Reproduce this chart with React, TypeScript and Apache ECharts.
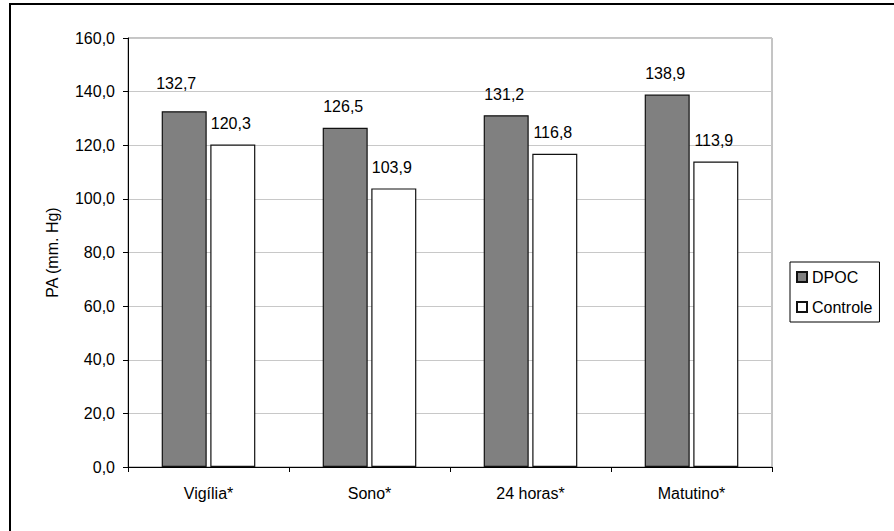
import React, { useEffect, useRef } from "react";
import * as echarts from "echarts";

const categories = ["Vigília*", "Sono*", "24 horas*", "Matutino*"];
const dpocValues = [132.7, 126.5, 131.2, 138.9];
const controleValues = [120.3, 103.9, 116.8, 113.9];
const seriesNames = ["DPOC", "Controle"];
const yAxisName = "PA (mm. Hg)";

const FONT = "'Liberation Sans', Arial, sans-serif";
const fmt = (v: number) => v.toFixed(1).replace(".", ",");

export default function App() {
  const ref = useRef<HTMLDivElement>(null);
  useEffect(() => {
    if (!ref.current) return;
    const chart = echarts.init(ref.current, null, { renderer: "svg" });
    const labelBase = {
      show: true,
      position: "top",
      distance: 13,
      offset: [-2, 0],
      color: "#000",
      fontFamily: FONT,
      fontSize: 16,
      formatter: (p: any) => fmt(p.value),
    };
    chart.setOption({
      animation: false,
      backgroundColor: "#fff",
      textStyle: { fontFamily: FONT },
      graphic: [
        {
          type: "rect",
          shape: { x: 10, y: 4, width: 950, height: 600 },
          style: { fill: "none", stroke: "#000", lineWidth: 2 },
          silent: true,
        },
      ],
      grid: {
        left: 128,
        right: 122,
        top: 38,
        bottom: 64,
        show: true,
        borderColor: "#8a8a8a",
        borderWidth: 1,
        backgroundColor: "transparent",
      },
      legend: {
        orient: "vertical",
        left: 790,
        top: 262,
        data: seriesNames,
        icon: "rect",
        itemWidth: 10,
        itemHeight: 10,
        itemGap: 14,
        padding: [7, 7, 7, 6],
        borderColor: "#000",
        borderWidth: 1,
        textStyle: { fontFamily: FONT, fontSize: 16, color: "#000" },
      },
      xAxis: {
        type: "category",
        data: categories,
        axisLine: { lineStyle: { color: "#000", width: 1 } },
        axisTick: { show: true, length: 5, lineStyle: { color: "#000" } },
        axisLabel: { color: "#000", fontFamily: FONT, fontSize: 16, margin: 18 },
      },
      yAxis: {
        type: "value",
        min: 0,
        max: 160,
        interval: 20,
        name: yAxisName,
        nameLocation: "middle",
        nameGap: 68,
        nameTextStyle: { color: "#000", fontFamily: FONT, fontSize: 16 },
        axisLine: { show: true, lineStyle: { color: "#000", width: 1 } },
        axisTick: { show: true, length: 5, lineStyle: { color: "#000" } },
        axisLabel: {
          color: "#000",
          fontFamily: FONT,
          fontSize: 16,
          margin: 13,
          formatter: (v: number) => fmt(v),
        },
        splitLine: { show: true, lineStyle: { color: "#c8c8c8", width: 1 } },
      },
      series: [
        {
          name: seriesNames[0],
          type: "bar",
          barWidth: 45,
          barGap: "8%",
          data: dpocValues.map((v, i) =>
            i === 0 ? { value: v, label: { offset: [-8, -7] } } : v
          ),
          itemStyle: { color: "#808080", borderColor: "#111", borderWidth: 1.2 },
          label: labelBase,
        },
        {
          name: seriesNames[1],
          type: "bar",
          barWidth: 45,
          barGap: "8%",
          data: controleValues,
          itemStyle: { color: "#ffffff", borderColor: "#111", borderWidth: 1.2 },
          label: labelBase,
        },
      ],
    });
    return () => chart.dispose();
  }, []);
  return (
    <div
      ref={ref}
      style={{ position: "absolute", left: 0, top: 0, width: 894, height: 531 }}
    />
  );
}
